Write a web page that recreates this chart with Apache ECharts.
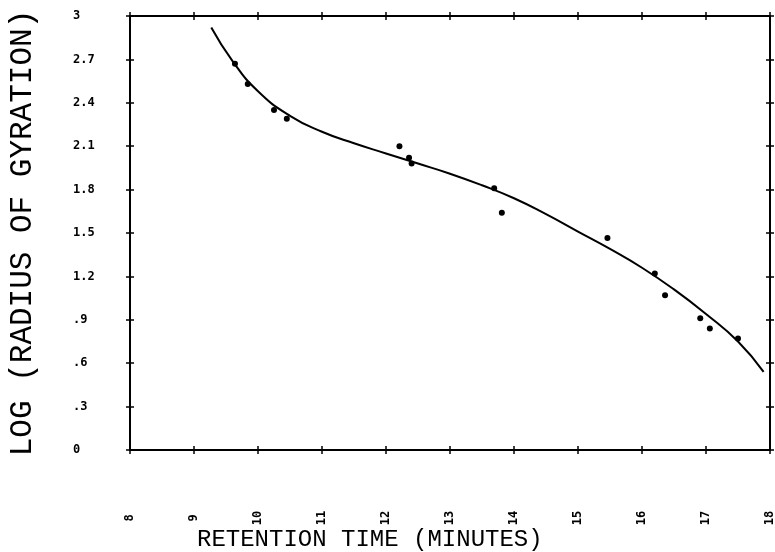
<!DOCTYPE html>
<html>
<head>
<meta charset="utf-8">
<script src="https://cdn.jsdelivr.net/npm/echarts@6/dist/echarts.min.js"></script>
<style>
  html, body { margin: 0; padding: 0; background: #fff; }
  #chart1 { width: 775px; height: 552px; }
</style>
</head>
<body>
<div id="chart1"></div>
<script>
// measured points (retention time, log Rg)
var pointX = [9.64, 9.84, 10.25, 10.45, 12.21, 12.36, 12.40, 13.69, 13.81, 15.46, 16.20, 16.36, 16.91, 17.06, 17.50];
var pointY = [2.67, 2.53, 2.35, 2.29, 2.10, 2.02, 1.98, 1.81, 1.64, 1.465, 1.22, 1.07, 0.91, 0.84, 0.77];

// fitted curve
var curveX = [9.27, 9.6, 10.0, 10.5, 11.0, 11.5, 12.0, 12.5, 13.0, 13.5, 14.0, 14.5, 15.0, 15.5, 16.0, 16.5, 17.0, 17.5, 17.9];
var curveY = [2.92, 2.69, 2.48, 2.31, 2.20, 2.12, 2.05, 1.98, 1.91, 1.83, 1.74, 1.63, 1.51, 1.39, 1.26, 1.11, 0.94, 0.75, 0.54];

var yTickLabels = ['0', '.3', '.6', '.9', '1.2', '1.5', '1.8', '2.1', '2.4', '2.7', '3'];
var xTickLabels = ['8', '9', '10', '11', '12', '13', '14', '15', '16', '17', '18'];

var _chart1 = null;
function initChart1() {
    _chart1 = echarts.init(document.getElementById('chart1'));

    var points = [];
    for (var i = 0; i < pointX.length; i++) {
        points.push([pointX[i], pointY[i]]);
    }
    var curve = [];
    for (var j = 0; j < curveX.length; j++) {
        curve.push([curveX[j], curveY[j]]);
    }

    var lineStyle = { color: '#000', width: 2 };
    var labelFont = { fontFamily: 'DejaVu Sans Mono', fontWeight: 'bold', fontSize: 12, color: '#000' };

    // one axis per tick direction, so ticks become little crosses
    function xAx(pos, inside, showLabel) {
        return {
            type: 'value', position: pos, min: 8, max: 18, interval: 1,
            axisLine: { show: true, onZero: false, lineStyle: lineStyle },
            axisTick: { show: true, inside: inside, length: 4, lineStyle: { color: '#000', width: 1.5 } },
            splitLine: { show: false },
            axisLabel: showLabel ? Object.assign({
                show: true, rotate: 90, margin: 68, align: 'center', verticalAlign: 'middle',
                formatter: function (v, idx) { return xTickLabels[idx]; }
            }, labelFont) : { show: false }
        };
    }
    function yAx(pos, inside, showLabel) {
        var ax = {
            type: 'value', position: pos, min: 0, max: 3, interval: 0.3,
            axisLine: { show: true, onZero: false, lineStyle: lineStyle },
            axisTick: { show: true, inside: inside, length: 4, lineStyle: { color: '#000', width: 1.5 } },
            splitLine: { show: false },
            axisLabel: showLabel ? Object.assign({
                show: true, margin: 57, align: 'left',
                formatter: function (v, idx) { return yTickLabels[idx]; }
            }, labelFont) : { show: false }
        };
        if (showLabel) {
            ax.name = 'LOG (RADIUS OF GYRATION)';
            ax.nameLocation = 'middle';
            ax.nameRotate = 90;
            ax.nameGap = 92;
            ax.nameTextStyle = { fontFamily: 'Liberation Mono', fontSize: 31, color: '#000' };
        }
        return ax;
    }

    var option = {
        animation: false,
        backgroundColor: '#fff',
        grid: { left: 130, right: 5, top: 16, bottom: 102, containLabel: false, outerBoundsMode: 'none' },
        xAxis: [xAx('bottom', false, true), xAx('bottom', true, false), xAx('top', false, false), xAx('top', true, false)],
        yAxis: [yAx('left', false, true), yAx('left', true, false), yAx('right', false, false), yAx('right', true, false)],
        graphic: [{
            type: 'text', left: 197, top: 528,
            style: { text: 'RETENTION TIME (MINUTES)', font: '24px "Liberation Mono"', fill: '#000' }
        }],
        series: [
            {
                name: 'fit', type: 'line', data: curve, smooth: 0.5,
                showSymbol: false, lineStyle: { color: '#000', width: 2 }
            },
            {
                name: 'data', type: 'scatter', data: points,
                symbol: 'circle', symbolSize: 6, itemStyle: { color: '#000', opacity: 1 }
            }
        ]
    };

    _chart1.setOption(option);
}
initChart1();
</script>
</body>
</html>
